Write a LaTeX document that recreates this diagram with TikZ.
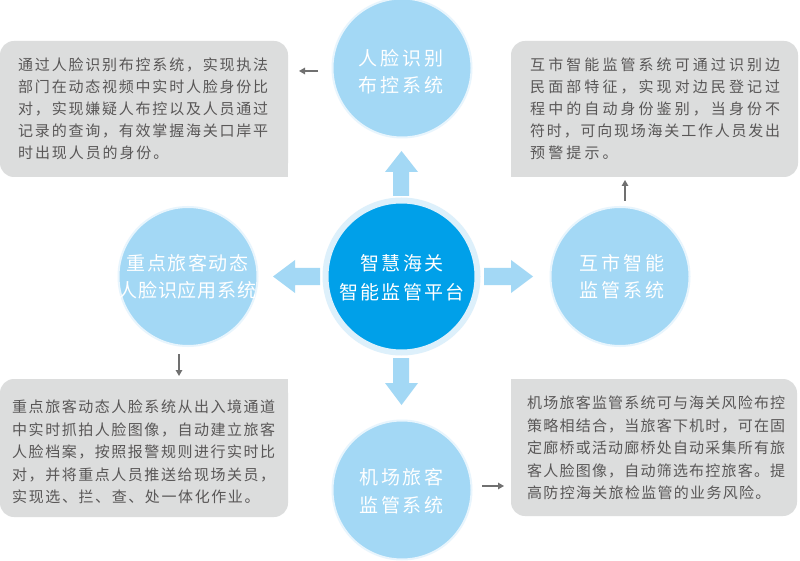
\documentclass[tikz,border=0pt]{standalone}
\usepackage{fontspec}
\setmainfont{Noto Sans CJK SC}
\usetikzlibrary{arrows.meta}
\definecolor{lb}{HTML}{A3D8F5}
\definecolor{ringl}{HTML}{E8F5FD}
\definecolor{ringc}{HTML}{DDF0FB}
\definecolor{cb}{HTML}{00A0E9}
\definecolor{bx}{HTML}{DCDDDD}
\definecolor{tx}{HTML}{595757}
\definecolor{ar}{HTML}{707070}
\newdimen\jw \newdimen\js
\def\jl#1{\hbox to \jw{\jlA#1\relax}}
\def\jlA#1{#1\jlB}
\def\jlB#1{\ifx\relax#1\else\hfil#1\expandafter\jlB\fi}
\def\jn#1#2{\js=#1\relax\hbox{\jnA#2\relax}}
\def\jnA#1{#1\jnB}
\def\jnB#1{\ifx\relax#1\else\kern\js#1\expandafter\jnB\fi}
\def\cl#1#2{\hbox to 0pt{\hss\jn{#1}{#2}\hss}}
\begin{document}
\begin{tikzpicture}[x=1pt,y=-1pt,
  lightc/.style={circle, fill=lb, draw=ringl, line width=2pt, minimum size=139pt, inner sep=0pt},
  centc/.style={circle, fill=cb, draw=ringc, line width=6pt, minimum size=152pt, inner sep=0pt},
  boxfill/.style={fill=bx},
  blk/.style={fill=lb},
  sarrow/.style={draw=ar, line width=1.3pt, -{Triangle[length=6pt,width=6.5pt]}},
  btext/.style={anchor=base west, inner sep=0pt, text=tx, font=\fontsize{15}{22}\selectfont},
  ctext/.style={anchor=base, inner sep=0pt, text=white, font=\fontsize{19}{27}\selectfont}]
\useasboundingbox (0,0) rectangle (800,561);
\fill[white] (0,0) rectangle (800,561);

% grey boxes
\fill[boxfill, rounded corners=14pt] (0,41) rectangle (288,177);
\fill[boxfill] (268,157) rectangle (288,177);
\fill[boxfill, rounded corners=14pt] (511,41) rectangle (798,177);
\fill[boxfill] (511,157) rectangle (531,177);
\fill[boxfill, rounded corners=14pt] (0,379) rectangle (288,517);
\fill[boxfill] (268,379) rectangle (288,399);
\fill[boxfill, rounded corners=14pt] (511,379) rectangle (797,516);
\fill[boxfill] (511,379) rectangle (531,399);

% block arrows
\fill[blk] (393,196) -- (393,172) -- (385,172) -- (401.5,151) -- (418,172) -- (409,172) -- (409,196) -- cycle;
\fill[blk] (393,358) -- (393,383) -- (385,383) -- (401.5,405) -- (418,383) -- (409,383) -- (409,358) -- cycle;
\fill[blk] (320,268) -- (295,268) -- (295,260) -- (273,276.5) -- (295,293) -- (295,285) -- (320,285) -- cycle;
\fill[blk] (484,268) -- (511,268) -- (511,260) -- (533,276.5) -- (511,293) -- (511,285) -- (484,285) -- cycle;

% circles
\node[centc] (c) at (401.5,276.5) {};
\node[lightc] (t) at (402,68) {};
\node[lightc] (l) at (188,276.5) {};
\node[lightc] (r) at (620,276.5) {};
\node[lightc] (b) at (402,490) {};

% circle texts
\node[ctext] (ct) at (402,270.2) {\vtop{\baselineskip=29pt\cl{2.4pt}{智慧海关}\cl{2.4pt}{智能监管平台}}};
\node[ctext] (tt) at (401,65.2) {\vtop{\baselineskip=27pt\cl{2.7pt}{人脸识别}\cl{2.7pt}{布控系统}}};
\node[ctext] (lt) at (187.5,270.2) {\vtop{\baselineskip=27pt\cl{1.5pt}{重点旅客动态}\cl{0.8pt}{人脸识应用系统}}};
\node[ctext] (rt) at (622,270.2) {\vtop{\baselineskip=27pt\cl{2.7pt}{互市智能}\cl{2.7pt}{监管系统}}};
\node[ctext] (bt) at (401.5,484.2) {\vtop{\baselineskip=28pt\cl{2.7pt}{机场旅客}\cl{2.7pt}{监管系统}}};

% box texts
\node[btext] (tlt) at (18,70.7) {\jw=250pt\vtop{\baselineskip=22pt
\jl{通过人脸识别布控系统，实现执法}
\jl{部门在动态视频中实时人脸身份比}
\jl{对，实现嫌疑人布控以及人员通过}
\jl{记录的查询，有效掌握海关口岸平}
\jn{1.9pt}{时出现人员的身份。}}};
\node[btext] (trt) at (530,70.7) {\jw=250pt\vtop{\baselineskip=22pt
\jl{互市智能监管系统可通过识别边}
\jl{民面部特征，实现对边民登记过}
\jl{程中的自动身份鉴别，当身份不}
\jl{符时，可向现场海关工作人员发出}
\jn{3.1pt}{预警提示。}}};
\node[btext] (blt) at (12,412.7) {\jw=263pt\vtop{\baselineskip=22.5pt
\jl{重点旅客动态人脸系统从出入境通道}
\jl{中实时抓拍人脸图像，自动建立旅客}
\jl{人脸档案，按照报警规则进行实时比}
\jl{对，并将重点人员推送给现场关员，}
\jn{1.6pt}{实现选、拦、查、处一体化作业。}}};
\node[btext] (brt) at (527,408.7) {\jw=258pt\vtop{\baselineskip=22.5pt
\jl{机场旅客监管系统可与海关风险布控}
\jl{策略相结合，当旅客下机时，可在固}
\jl{定廊桥或活动廊桥处自动采集所有旅}
\jl{客人脸图像，自动筛选布控旅客。提}
\jn{1.3pt}{高防控海关旅检监管的业务风险。}}};

% small connector arrows
\coordinate (tla) at (318,71);  \coordinate (tlb) at (299,71);
\coordinate (tra) at (625,201); \coordinate (trb) at (625,180);
\coordinate (bla) at (179,354); \coordinate (blb) at (179,376);
\coordinate (bra) at (482,486); \coordinate (brb) at (504,486);
\draw[sarrow] (tla) -- (tlb);
\draw[sarrow] (tra) -- (trb);
\draw[sarrow] (bla) -- (blb);
\draw[sarrow] (bra) -- (brb);
\end{tikzpicture}
\end{document}
